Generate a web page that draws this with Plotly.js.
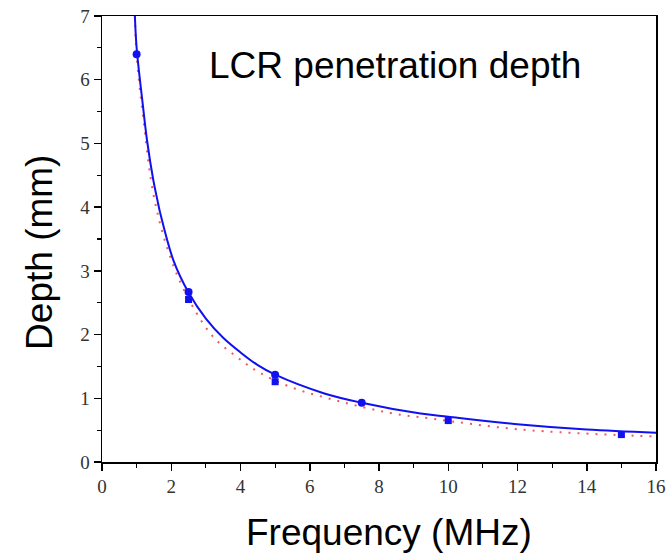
<!DOCTYPE html>
<html>
<head>
<meta charset="utf-8">
<script src="https://cdn.plot.ly/plotly-3.0.1.min.js"></script>
<style>html,body{margin:0;padding:0;background:#fff;}#chart{width:669px;height:556px;}</style>
</head>
<body>
<div id="chart"></div>
<script>
// Fitted curve (solid blue)
const fitFreq  = [0.95, 1.0, 1.18, 1.3, 1.48, 1.6, 1.68, 2.06, 2.5, 3.0, 3.5, 4.0, 4.5, 5.0, 6.4, 7.5, 9.2, 10, 12.08, 14, 16];
const fitDepth = [7.0, 6.5, 5.6, 5.05, 4.43, 4.11, 3.91, 3.17, 2.66, 2.25, 1.95, 1.72, 1.52, 1.37, 1.08, 0.93, 0.76, 0.71, 0.59, 0.51, 0.46];
// Theoretical curve (red dotted)
const theoFreq  = [0.95, 1.0, 1.2, 1.48, 1.87, 2.37, 3.17, 3.89, 4.5, 5.43, 6.88, 8.32, 9.53, 12.08, 16];
const theoDepth = [7.0, 6.38, 5.35, 4.22, 3.38, 2.70, 1.99, 1.65, 1.42, 1.18, 0.95, 0.77, 0.68, 0.51, 0.40];
// Measured points
const circFreq  = [1, 2.5, 5, 7.5];
const circDepth = [6.40, 2.67, 1.37, 0.93];
const sqFreq    = [2.5, 5, 10, 15];
const sqDepth   = [2.55, 1.26, 0.65, 0.43];

const xTitle = 'Frequency (MHz)';
const yTitle = 'Depth (mm)';
const chartTitle = 'LCR penetration depth';

const traces = [
  {x: theoFreq, y: theoDepth, mode: 'lines', line: {color: '#f05a5a', width: 2, dash: '2px,7px', shape: 'spline'}, hoverinfo: 'skip'},
  {x: fitFreq, y: fitDepth, mode: 'lines', line: {color: '#1010f0', width: 2, shape: 'spline'}, hoverinfo: 'skip'},
  {x: sqFreq, y: sqDepth, mode: 'markers', marker: {symbol: 'square', size: 7, color: '#1010f0'}},
  {x: circFreq, y: circDepth, mode: 'markers', marker: {symbol: 'circle', size: 8, color: '#1010f0'}}
];

const tickFont = {family: 'Liberation Serif, Times New Roman, serif', size: 19, color: '#333'};
const axisCommon = {
  showgrid: false, zeroline: false, showline: true, linecolor: '#000', linewidth: 1.5,
  mirror: true, ticks: 'outside', ticklen: 7, tickwidth: 1.5, tickcolor: '#000',
  tickfont: tickFont
};

const layout = {
  width: 669, height: 556,
  margin: {l: 102, r: 13, t: 16, b: 94},
  paper_bgcolor: '#fff', plot_bgcolor: '#fff',
  showlegend: false,
  xaxis: Object.assign({}, axisCommon, {range: [0, 16], dtick: 2, tick0: 0,
    minor: {dtick: 1, ticks: 'outside', ticklen: 4, tickcolor: '#000', tickwidth: 1.2}}),
  yaxis: Object.assign({}, axisCommon, {range: [0, 7], dtick: 1, tick0: 0,
    minor: {dtick: 0.5, ticks: 'outside', ticklen: 4, tickcolor: '#000', tickwidth: 1.2}}),
  annotations: [
    {text: chartTitle, xref: 'paper', yref: 'paper', x: 0.529, y: 0.888, xanchor: 'center', yanchor: 'middle',
     showarrow: false, font: {family: 'Liberation Sans, Arial, sans-serif', size: 37, color: '#000'}},
    {text: xTitle, xref: 'paper', yref: 'paper', x: 0.518, y: -0.159, xanchor: 'center', yanchor: 'middle',
     showarrow: false, font: {family: 'Liberation Sans, Arial, sans-serif', size: 37, color: '#000'}},
    {text: yTitle, xref: 'paper', yref: 'paper', x: -0.112, y: 0.471, xanchor: 'center', yanchor: 'middle',
     textangle: -90, showarrow: false, font: {family: 'Liberation Sans, Arial, sans-serif', size: 37, color: '#000'}}
  ]
};

Plotly.newPlot('chart', traces, layout, {staticPlot: true, displayModeBar: false});
</script>
</body>
</html>
